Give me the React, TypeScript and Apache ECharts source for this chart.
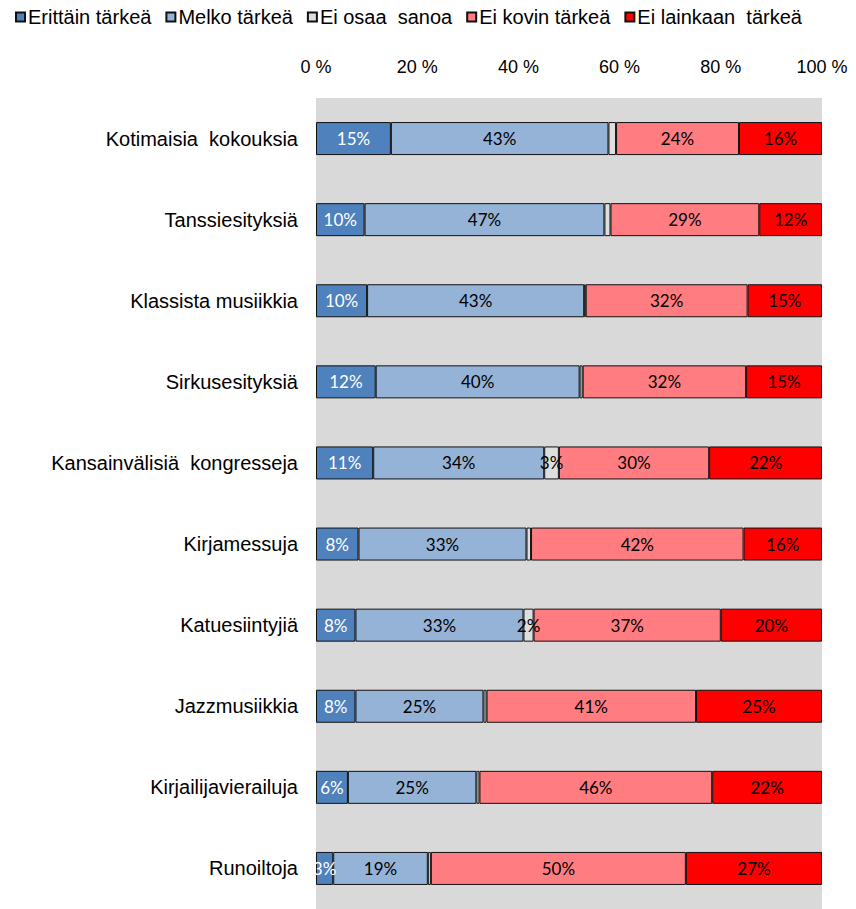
import React, { useEffect, useRef } from "react";
import * as echarts from "echarts";

const categories = [
  "Kotimaisia  kokouksia",
  "Tanssiesityksiä",
  "Klassista musiikkia",
  "Sirkusesityksiä",
  "Kansainvälisiä  kongresseja",
  "Kirjamessuja",
  "Katuesiintyjiä",
  "Jazzmusiikkia",
  "Kirjailijavierailuja",
  "Runoiltoja",
];

const seriesNames = [
  "Erittäin tärkeä",
  "Melko tärkeä",
  "Ei osaa  sanoa",
  "Ei kovin tärkeä",
  "Ei lainkaan  tärkeä",
];

const erittain = [14.8, 9.6, 10.1, 11.8, 11.3, 8.4, 7.8, 7.8, 6.3, 3.4];
const melko = [43.0, 47.4, 42.9, 40.3, 33.8, 33.2, 33.2, 25.3, 25.4, 18.7];
const eiOsaa = [1.5, 1.2, 0.3, 0.6, 2.9, 0.9, 2.0, 0.6, 0.6, 0.6];
const eiKovin = [24.3, 29.4, 32.0, 32.3, 29.7, 42.0, 37.0, 41.4, 46.0, 50.4];
const eiLainkaan = [16.4, 12.4, 14.7, 15.0, 22.3, 15.5, 20.0, 24.9, 21.7, 26.9];

const xTicks = [0, 20, 40, 60, 80, 100];

const colors = ["#4F81BD", "#95B3D7", "#DEDEDE", "#FF7C80", "#FF0000"];
const labelColors = ["#FFFFFF", "#000000", "#000000", "#000000", "#000000"];

export default function App() {
  const ref = useRef<HTMLDivElement>(null);
  useEffect(() => {
    if (!ref.current) return;
    const chart = echarts.init(ref.current, undefined, { renderer: "svg" });
    const dataSets = [erittain, melko, eiOsaa, eiKovin, eiLainkaan];
    const series = dataSets.map((d, i) => ({
      name: seriesNames[i],
      type: "bar",
      stack: "total",
      barWidth: 33,
      data: d,
      itemStyle: { color: colors[i], borderColor: "#111111", borderWidth: 1 },
      label: {
        show: true,
        position: "inside",
        color: labelColors[i],
        fontFamily: "Lato",
        fontSize: 17,
        formatter: (p: any) =>
          i === 2 && p.value < 1.95 ? "" : Math.round(p.value) + "%",
      },
    }));
    chart.setOption({
      animation: false,
      backgroundColor: "#FFFFFF",
      legend: {
        top: 2,
        left: 10,
        itemWidth: 9,
        itemHeight: 9,
        itemGap: 14,
        icon: "rect",
        textStyle: {
          fontFamily: "Liberation Sans",
          fontSize: 20,
          color: "#000000",
          padding: [0, 0, 0, -2],
        },
        data: seriesNames,
      },
      grid: {
        left: 316,
        right: 34,
        top: 98,
        height: 815,
        show: true,
        backgroundColor: "#D9D9D9",
        borderWidth: 0,
      },
      xAxis: {
        type: "value",
        position: "top",
        min: xTicks[0],
        max: xTicks[xTicks.length - 1],
        interval: 20,
        axisLine: { show: false },
        axisTick: { show: false },
        splitLine: { show: false },
        axisLabel: {
          formatter: "{value} %",
          fontFamily: "Liberation Sans",
          fontSize: 18,
          color: "#000000",
          margin: 22,
        },
      },
      yAxis: {
        type: "category",
        inverse: true,
        data: categories,
        axisLine: { show: false },
        axisTick: { show: false },
        axisLabel: {
          fontFamily: "Liberation Sans",
          fontSize: 20,
          color: "#000000",
          margin: 18,
        },
      },
      series,
    });
    return () => chart.dispose();
  }, []);
  return (
    <div
      ref={ref}
      style={{ position: "fixed", left: 0, top: 0, width: 856, height: 909 }}
    />
  );
}
